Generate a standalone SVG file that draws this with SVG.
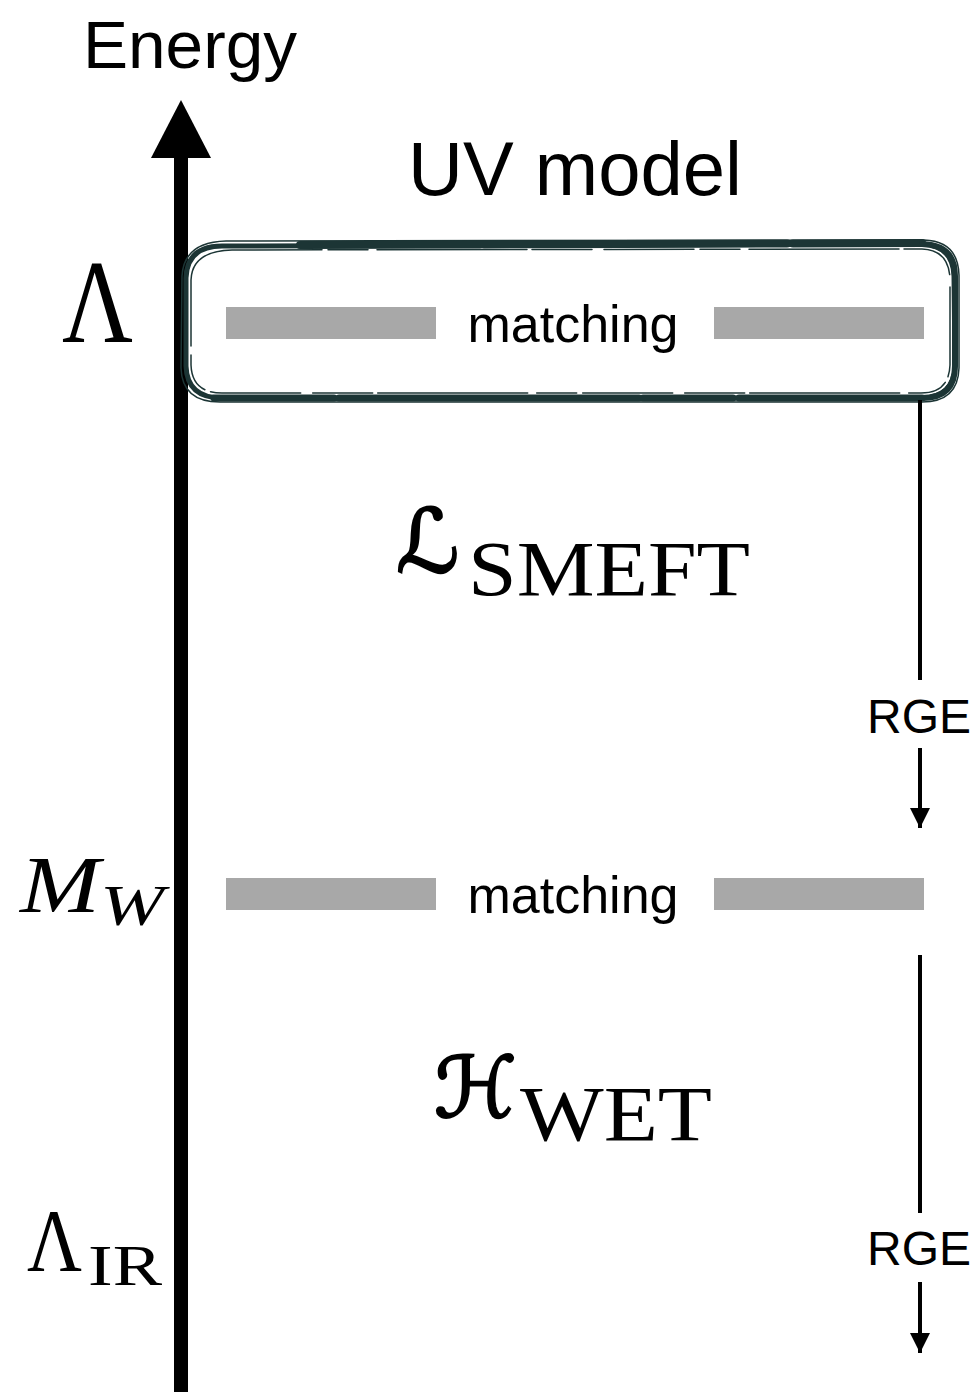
<svg xmlns="http://www.w3.org/2000/svg" width="979" height="1392" viewBox="0 0 979 1392">
  <defs>
    <marker id="arrowDown" viewBox="0 0 10 10" refX="10" refY="5" markerWidth="5" markerHeight="5" markerUnits="strokeWidth" orient="auto">
      <path d="M0,0 L10,5 L0,10 Z" fill="#000"/>
    </marker>
    <style>
      .sans { font-family: "Liberation Sans", Arial, sans-serif; fill: #000; }
      .serif { font-family: "Liberation Serif", "DejaVu Serif", serif; fill: #000; }
      .cal { font-family: "DejaVu Serif", "DejaVu Sans", serif; font-style: italic; fill: #000; stroke: #000; stroke-width: 2.2; }
      .bar { fill: #a8a8a8; }
      .rge { stroke: #000; stroke-width: 4; fill: none; }
      .brush { fill: none; stroke: #1c3535; stroke-linecap: round; }
    </style>
  </defs>
  <rect width="979" height="1392" fill="#fff"/>

  <!-- energy axis -->
  <g id="axis">
    <rect x="174" y="150" width="14" height="1242" fill="#000"/>
    <polygon points="181,100 151,158 211,158" fill="#000"/>
    <text class="sans" x="83" y="68" font-size="66" textLength="214" lengthAdjust="spacingAndGlyphs">Energy</text>
  </g>

  <!-- scale labels -->
  <g id="label-lambda">
    <text class="serif" x="62" y="342" font-size="118" textLength="71" lengthAdjust="spacingAndGlyphs">Λ</text>
  </g>
  <g id="label-mw">
    <text class="serif" x="20" y="912" font-size="80" font-style="italic" textLength="80" lengthAdjust="spacingAndGlyphs">M</text>
    <text class="serif" x="100" y="925" font-size="56" font-style="italic" textLength="64" lengthAdjust="spacingAndGlyphs">W</text>
  </g>
  <g id="label-lambda-ir">
    <text class="serif" x="27" y="1270" font-size="88" textLength="55" lengthAdjust="spacingAndGlyphs">Λ</text>
    <text class="serif" x="88" y="1285" font-size="58" textLength="74" lengthAdjust="spacingAndGlyphs">IR</text>
  </g>

  <!-- UV model -->
  <g id="uv-model">
    <text class="sans" x="408" y="195" font-size="76" textLength="334" lengthAdjust="spacingAndGlyphs">UV model</text>
  </g>

  <!-- matching at the UV scale, inside a brush-drawn frame -->
  <g id="matching-uv">
    <path class="brush" stroke-width="5" d="M222,246 L922,244 Q953,245 954,276 L955,366 Q954,397 922,398 L222,398 Q187,398 186,366 L186,278 Q187,246 222,246 Z"/>
    <path class="brush" stroke-width="1.5" d="M226,241 L924,240 Q958,241 959,275 L959,368 Q958,402 922,402 L220,402 Q182,402 181,368 L182,276 Q184,242 226,241 Z"/>
    <path class="brush" stroke-width="1.5" stroke-dasharray="90 6 40 9 150 5 60 12" d="M232,250 L922,249 Q949,250 950,279 L950,365 Q949,393 921,393 L222,393 Q192,393 191,365 L191,280 Q192,251 232,250"/>
    <path class="brush" stroke-width="8" stroke-dasharray="180 4 60 3 240 6 400" d="M300,245 L922,243"/>
    <path class="brush" stroke-width="7" stroke-dasharray="120 5 300 4 90 6 500" d="M214,398 L922,398"/>
    <path class="brush" stroke-width="6" d="M922,244 Q955,245 955,276 L955,366 Q955,398 922,398"/>
    <rect class="bar" x="226" y="307" width="210" height="32"/>
    <rect class="bar" x="714" y="307" width="210" height="32"/>
    <text class="sans" x="573" y="342" font-size="52" text-anchor="middle">matching</text>
  </g>

  <!-- SMEFT Lagrangian -->
  <g id="smeft">
    <text class="cal" x="396" y="572" font-size="88">ℒ</text>
    <text class="serif" x="468" y="595" font-size="78" textLength="282" lengthAdjust="spacingAndGlyphs">SMEFT</text>
  </g>

  <!-- matching at the electroweak scale -->
  <g id="matching-ew">
    <rect class="bar" x="226" y="878" width="210" height="32"/>
    <rect class="bar" x="714" y="878" width="210" height="32"/>
    <text class="sans" x="573" y="913" font-size="52" text-anchor="middle">matching</text>
  </g>

  <!-- WET Hamiltonian -->
  <g id="wet">
    <text class="cal" x="434" y="1117" font-size="84">ℋ</text>
    <text class="serif" x="520" y="1140" font-size="78" textLength="192" lengthAdjust="spacingAndGlyphs">WET</text>
  </g>

  <!-- renormalisation-group running -->
  <g id="connectors">
    <line class="rge" x1="920" y1="400" x2="920" y2="680"/>
    <text class="sans" x="919" y="733" font-size="48" text-anchor="middle">RGE</text>
    <line class="rge" x1="920" y1="748" x2="920" y2="828" marker-end="url(#arrowDown)"/>
    <line class="rge" x1="920" y1="955" x2="920" y2="1213"/>
    <text class="sans" x="919" y="1265" font-size="48" text-anchor="middle">RGE</text>
    <line class="rge" x1="920" y1="1282" x2="920" y2="1353" marker-end="url(#arrowDown)"/>
  </g>
</svg>
